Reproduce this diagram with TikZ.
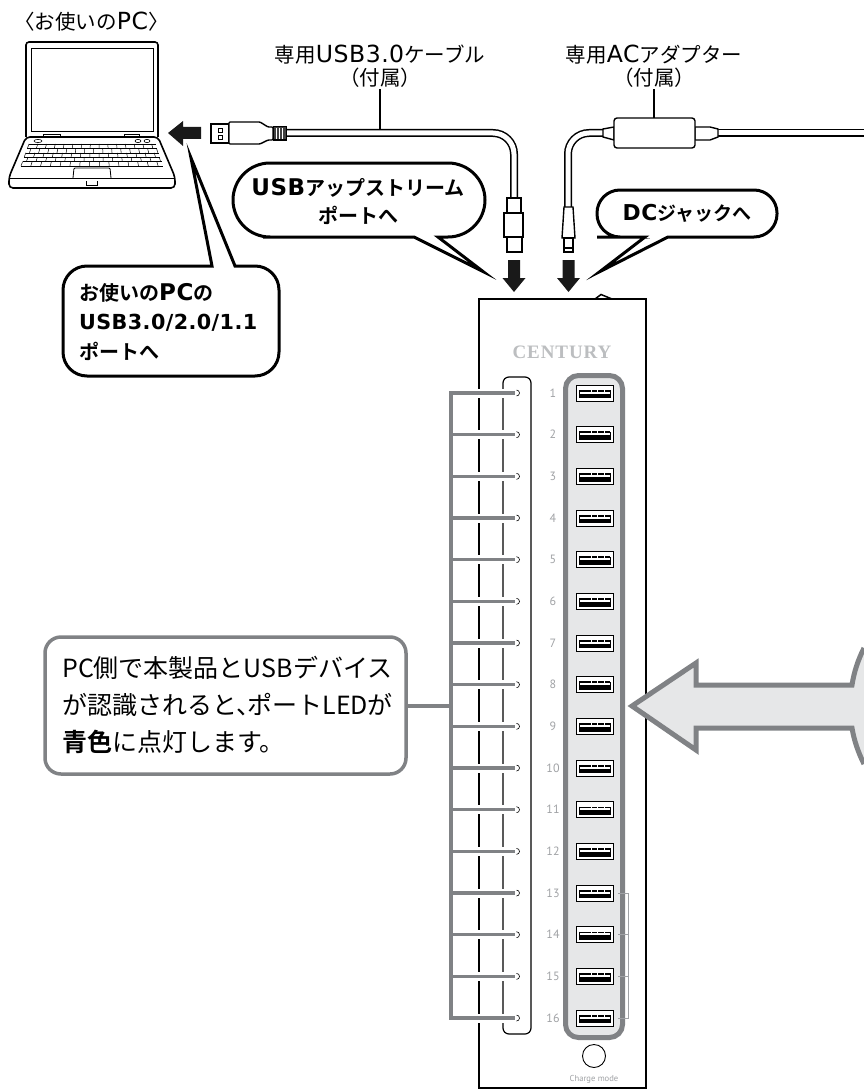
\documentclass[tikz,border=0pt]{standalone}
\usepackage{fontspec}
\setmainfont{Noto Sans CJK JP}[BoldFont={Noto Sans CJK JP Bold}]
\newfontfamily\lat{DejaVu Sans}[Scale=1.15, LetterSpace=2]
\newfontfamily\logofont[LetterSpace=5]{Liberation Serif}
\newfontfamily\digitfont{PT Sans}
\definecolor{portgray}{HTML}{808285}
\definecolor{panelfill}{HTML}{E6E7E8}
\definecolor{numgray}{HTML}{A0A2A5}
\definecolor{logogray}{HTML}{BCBEC0}
\tikzset{
  callout/.style={draw=black, fill=white, line width=3pt, miter limit=40},
  cablewire/.style={draw=black, line width=1.5pt, double=white, double distance=5pt},
  plugpart/.style={draw=black, fill=white, line width=1.4pt},
  ledline/.style={draw=portgray, line width=3.5pt, preaction={draw=white, line width=9pt}},
}
\begin{document}
\begin{tikzpicture}[x=1pt, y=-1pt]
\useasboundingbox (0,0) rectangle (864,1089);
% laptop
\draw[line width=1.6pt, rounded corners=3pt] (26,137) -- (26,42) -- (158,42) -- (158,137);
\draw[line width=0.8pt] (31,48) rectangle (153,131);
\draw[line width=1.6pt, fill=white, rounded corners=4pt] (26,137) -- (158,137) -- (175,177) -- (175,188) -- (9,188) -- (9,177) -- cycle;
\draw[line width=0.7pt] (10,178) -- (174,178);
\draw[line width=0.7pt] (43,134) rectangle (60,137);
\draw[line width=0.7pt] (124,134) rectangle (139,137);
\draw[line width=0.6pt] (38,141) ellipse [x radius=4pt, y radius=1.6pt];
\draw[line width=0.6pt] (138,141) ellipse [x radius=3pt, y radius=1.6pt];
\draw[line width=0.6pt] (147,141) ellipse [x radius=3pt, y radius=1.6pt];
\foreach \row in {0,...,5} {
  \pgfmathsetmacro\xa{29-8*\row/5}
  \pgfmathsetmacro\xb{156+7*\row/5}
  \pgfmathsetmacro\ya{144+22*\row/5}
  \draw[line width=0.6pt] (\xa,\ya) -- (\xb,\ya);
}
\foreach \row in {0,...,4} {
  \pgfmathsetmacro\xa{29-8*\row/5}
  \pgfmathsetmacro\xb{156+7*\row/5}
  \pgfmathsetmacro\xc{29-8*(\row+1)/5}
  \pgfmathsetmacro\xd{156+7*(\row+1)/5}
  \pgfmathsetmacro\ya{144+22*\row/5}
  \pgfmathsetmacro\yb{\ya+4.4}
  \foreach \key in {0,...,14} {
    \pgfmathsetmacro\fr{(\key+0.4*mod(\row,2))/14.5}
    \draw[line width=0.5pt] ({\xa+\fr*(\xb-\xa)},\ya) -- ({\xc+\fr*(\xd-\xc)},\yb);
  }
}
\draw[line width=0.8pt, rounded corners=1pt] (73,178) -- (74,168) -- (110,168) -- (111,178);
\draw[line width=0.8pt] (86,181) -- (86,185) -- (97,185) -- (97,181);

% usb cable
\coordinate (usbcable) at (380,130);
\draw[cablewire, rounded corners=21pt] (286,133) -- (514,133) -- (514,198);
\draw[plugpart] (507,198) rectangle (521,213);
\draw[plugpart] (504,213) rectangle (523,237);
\draw[plugpart] (507,237) rectangle (522,252);
\draw[plugpart, line width=1.2pt] (211,124) rectangle (229,143);
\draw[line width=0.9pt] (218,128) rectangle (222,132);
\draw[line width=0.9pt] (218,135) rectangle (222,139);
\draw[plugpart, rounded corners=1pt] (229,122) -- (260,122) -- (268,127) -- (273,127) -- (273,140) -- (268,140) -- (260,144) -- (229,144) -- cycle;
\fill[black!75] (273,127) rectangle (286,140);
\foreach \rib in {276,279,282} {
  \draw[white, line width=0.8pt] (\rib,128) -- (\rib,139);
}
\draw[line width=1pt] (273,127) rectangle (286,140);

% ac adapter
\coordinate (accable) at (654,118);
\draw[cablewire, rounded corners=21pt] (604,133) -- (568,133) -- (568,207);
\draw[cablewire] (718,133) -- (864,133);
\draw[plugpart] (603,129) -- (614,127) -- (614,140) -- (603,137) -- cycle;
\draw[plugpart] (695,127) -- (710,127) -- (718,129) -- (718,137) -- (710,140) -- (695,140) -- cycle;
\draw[plugpart, rounded corners=3pt] (614,118) rectangle (695,148);
\draw[plugpart] (564,207) -- (573,207) -- (575,238) -- (562,238) -- cycle;
\draw[plugpart] (564,238) rectangle (573,252);
\draw[line width=1.2pt] (564,248) -- (573,248);

% arrows to the hub and the pc
\foreach \ax in {514,568.5} {
  \fill[black!90] ({\ax-6},260) -- ({\ax+6},260) -- ({\ax+6},278) -- ({\ax+11.5},278) -- (\ax,292) -- ({\ax-11.5},278) -- ({\ax-6},278) -- cycle;
}
\fill[black!90] (201,127) -- (183,127) -- (183,121) -- (168,133) -- (183,146) -- (183,139) -- (201,139) -- cycle;

% hub
\draw[line width=1.5pt] (595,299) -- (601,294.5) -- (612,299);
\draw[line width=1.6pt, fill=white] (479,299) rectangle (646,1088);
\node (logo) at (562,352) {\logofont\bfseries\fontsize{19}{19}\selectfont\color{logogray}CENTURY};
\draw[line width=1.2pt, rounded corners=6pt] (503,377) rectangle (531,1034);
\draw[draw=portgray, fill=panelfill, line width=5pt, rounded corners=13pt] (565.5,375.5) rectangle (622.5,1037.5);
\foreach \n in {1,...,16} {
  \pgfmathsetmacro\py{393+41.67*(\n-1)}
  \coordinate (port\n) at (594.5,\py);
  \node[text=numgray, font=\digitfont\fontsize{12}{12}\selectfont] (num\n) at (553,\py) {\n};
  \draw[draw=black, fill=white, line width=1pt] (576,\py-8) rectangle (613,\py+8);
  \draw[line width=0.8pt] (579,\py-3) -- (579,\py+4.8) -- (610.5,\py+4.8) -- (610.5,\py-3);
  \fill (579,\py+0.7) rectangle (610.5,\py+4.8);
  \foreach \pin in {579,585.4,591.8,598.2,604.6} {
    \fill (\pin,\py-3.2) rectangle (\pin+5.5,\py-1.5);
  }
  \draw[ledline] (451,\py) -- (515,\py);
}
\draw[draw=portgray, line width=3.5pt, line cap=rect] (451,393) -- (451,1018);
\foreach \n in {1,...,16} {
  \pgfmathsetmacro\py{393+41.67*(\n-1)}
  \draw[line width=0.6pt] (516.5,\py-3) arc [start angle=90, end angle=-90, radius=3pt];
  \coordinate (led\n) at (451,\py);
}
\draw[numgray, line width=0.7pt] (618,893) -- (628,893) -- (628,1018) -- (618,1018);
\draw[numgray, line width=0.7pt] (618,934.7) -- (628,934.7);
\draw[numgray, line width=0.7pt] (618,976.3) -- (628,976.3);
\draw[line width=0.9pt] (594,1056) circle [radius=11.5pt];
\node[text=numgray, font=\digitfont\fontsize{8.6}{9}\selectfont] (chargelabel) at (594,1079) {Charge mode};

% big arrow
\draw[draw=portgray, fill=panelfill, line width=5pt, miter limit=10] (864,648) .. controls (858,660) and (854,672) .. (852,685) -- (696,685) -- (696,663) -- (632,706) -- (696,750) -- (696,728) -- (852,728) .. controls (854,740) and (858,752) .. (864,764);

% led note
\node[draw=portgray, fill=white, line width=3.5pt, rounded corners=16pt, minimum width=361pt, minimum height=137pt, inner sep=0pt] (lednote) at (225.5,705.5) {};
\node[anchor=west, inner sep=0pt, align=left, font=\fontsize{25}{37}\selectfont] (ledtext) at (62,705) {PC側で本製品とUSBデバイス\\が認識されると、\kern-.55em ポートLEDが\\{\bfseries 青色}に点灯します。};
\coordinate (ledjoin) at (451,706);
\draw[draw=portgray, line width=3.5pt] (lednote.east |- ledjoin) -- (ledjoin);

% callouts
\draw[callout, rounded corners=37pt] (438,237) -- (485,237) -- (485,163) -- (233,163) -- (233,237) -- (300,237) [sharp corners] -- (414,237) -- (483,271.5) -- cycle;
\node[align=center, inner sep=0pt, font=\bfseries\fontsize{20}{28}\selectfont] (usbtext) at (358,202) {{\lat USB}アップストリーム\\ポートへ};
\draw[callout, rounded corners=23pt] (668,237) -- (777,237) -- (777,190) -- (597,190) -- (597,237) -- (620,237) [sharp corners] -- (645,237) -- (600,271.5) -- cycle;
\node[inner sep=0pt, font=\bfseries\fontsize{19}{24}\selectfont] (dctext) at (687,213) {{\lat DC}ジャックへ};
\draw[callout, rounded corners=24pt] (235,266) -- (279,266) -- (279,376) -- (63,376) -- (63,266) -- (110,266) [sharp corners] -- (212,266) -- (191,158) -- cycle;
\node[anchor=west, align=left, inner sep=0pt, font=\bfseries\fontsize{20}{29.5}\selectfont] (pctext) at (79,322) {お使いの{\lat PC}の\\{\lat\fontsize{18}{29.5}\selectfont USB3.0/2.0/1.1}\\ポートへ};

% labels
\node[inner sep=0pt, font=\fontsize{20.5}{20.5}\selectfont] (pclabel) at (91.5,22) {〈お使いの{\lat PC}〉};
\node[align=center, inner sep=2pt, font=\fontsize{20.5}{22.5}\selectfont] (usblabel) at (380,66) {専用{\lat USB3.0}ケーブル\\（付属）};
\node[align=center, inner sep=2pt, font=\fontsize{20.5}{22.5}\selectfont] (aclabel) at (654,66) {専用{\lat AC}アダプター\\（付属）};
\draw[line width=1.6pt] (usblabel.south) -- (usbcable);
\draw[line width=1.6pt] (aclabel.south) -- (accable);
\end{tikzpicture}
\end{document}
